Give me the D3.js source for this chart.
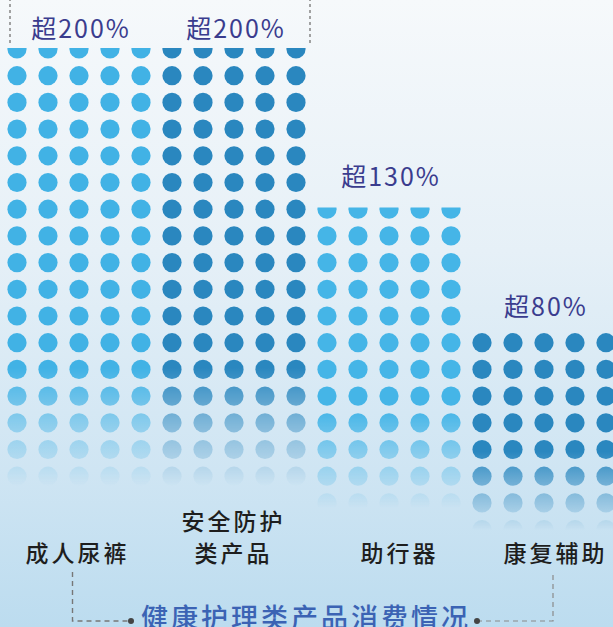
<!DOCTYPE html>
<html>
<head>
<meta charset="utf-8">
<script src="https://cdn.jsdelivr.net/npm/d3@7/dist/d3.min.js"></script>
<style>
  html, body { margin: 0; padding: 0; }
  body { width: 613px; height: 627px; overflow: hidden; }
  svg { display: block; font-family: "Noto Sans CJK SC", "Noto Sans", sans-serif; }
</style>
</head>
<body>
<svg id="chart" width="613" height="627"></svg>
<script>
// 健康护理类产品消费情况 - growth by category
const categories = ['成人尿裤', '安全防护类产品', '助行器', '康复辅助'];
const labelLines = [['成人尿裤'], ['安全防护', '类产品'], ['助行器'], ['康复辅助']];
const growth = [200, 200, 130, 80];
const growthText = ['超200%', '超200%', '超130%', '超80%'];
const title = '健康护理类产品消费情况';

(function() {
    const W = 613, H = 627;
    const svg = d3.select('#chart');
    const defs = svg.append('defs');

    // style per group
    const dotColor = ['#41b2e5', '#2a87bf', '#45b5e7', '#2a87bf'];
    const fade = [[368, 486], [368, 486], [410, 508], [452, 530]];
    const pctDy = [-10, -10, -22, -6];
    const labelDx = [-3, -2, 9, 10];

    // background
    const bg = defs.append('linearGradient').attr('id', 'bg')
        .attr('x1', 0).attr('y1', 0).attr('x2', 0).attr('y2', 1);
    bg.append('stop').attr('offset', 0).attr('stop-color', '#f6f9fb');
    bg.append('stop').attr('offset', 0.4).attr('stop-color', '#e6f0f7');
    bg.append('stop').attr('offset', 0.75).attr('stop-color', '#cfe5f3');
    bg.append('stop').attr('offset', 1).attr('stop-color', '#bcdcef');
    svg.append('rect').attr('width', W).attr('height', H).attr('fill', 'url(#bg)');

    // scales
    const x = d3.scaleBand().domain(categories).range([1.5, 621.5]).padding(0);
    const y = d3.scaleLinear().domain([0, 200]).range([504, 48]);
    const perGroup = 5;
    const step = x.bandwidth() / perGroup;
    const r = 9.6;
    const rowY = d3.range(0, 19).map(i => 49 + 26.7 * i);

    categories.forEach((c, gi) => {
        const top = y(growth[gi]);
        const clipId = 'clip' + gi;
        defs.append('clipPath').attr('id', clipId)
            .append('rect').attr('x', x(c)).attr('y', top)
            .attr('width', x.bandwidth()).attr('height', H - top);

        const grad = defs.append('linearGradient').attr('id', 'fade' + gi)
            .attr('gradientUnits', 'userSpaceOnUse')
            .attr('x1', 0).attr('x2', 0).attr('y1', fade[gi][0]).attr('y2', fade[gi][1]);
        grad.append('stop').attr('offset', 0).attr('stop-color', '#fff');
        grad.append('stop').attr('offset', 0.5).attr('stop-color', '#777');
        grad.append('stop').attr('offset', 1).attr('stop-color', '#000');
        defs.append('mask').attr('id', 'mask' + gi)
            .attr('maskUnits', 'userSpaceOnUse')
            .attr('x', 0).attr('y', 0).attr('width', W).attr('height', H)
            .append('rect').attr('width', W).attr('height', H).attr('fill', 'url(#fade' + gi + ')');

        const cells = [];
        rowY.filter(cy => cy >= top - r / 2 && cy < fade[gi][1]).forEach(cy => {
            d3.range(perGroup).forEach(j => cells.push({ cx: x(c) + step * (j + 0.5), cy }));
        });

        const g = svg.append('g')
            .attr('clip-path', 'url(#' + clipId + ')')
            .append('g').attr('mask', 'url(#mask' + gi + ')');
        g.selectAll('circle').data(cells).enter().append('circle')
            .attr('cx', d => d.cx).attr('cy', d => d.cy).attr('r', r)
            .attr('fill', dotColor[gi]);

        // growth label
        svg.append('text')
            .attr('x', x(c) + x.bandwidth() / 2 + 2)
            .attr('y', top + pctDy[gi])
            .attr('text-anchor', 'middle')
            .attr('font-size', 25)
            .attr('letter-spacing', 2)
            .attr('fill', '#3a3c8e')
            .text(growthText[gi]);

        // category label
        const lines = labelLines[gi];
        const lab = svg.append('text')
            .attr('text-anchor', 'middle')
            .attr('font-size', 23)
            .attr('font-weight', 500)
            .attr('letter-spacing', 3)
            .attr('fill', '#1e1e1e');
        lines.forEach((ln, li) => {
            lab.append('tspan')
                .attr('x', x(c) + x.bandwidth() / 2 + labelDx[gi] + 1.5)
                .attr('y', 562 - (lines.length - 1 - li) * 32)
                .text(ln);
        });
    });

    // dashed bracket on top
    svg.append('path')
        .attr('d', 'M10,-2 V44 M310,-2 V44')
        .attr('stroke', '#8c8c8c').attr('stroke-width', 1.6)
        .attr('stroke-dasharray', '3,3').attr('fill', 'none');

    // bottom bracket + title
    svg.append('path')
        .attr('d', 'M72.5,572 V621 H131')
        .attr('stroke', '#777').attr('stroke-width', 1.4)
        .attr('stroke-dasharray', '5,4').attr('fill', 'none');
    svg.append('path')
        .attr('d', 'M477,621 H553 V572')
        .attr('stroke', '#8a8a8a').attr('stroke-width', 1.2)
        .attr('stroke-dasharray', '5,4').attr('fill', 'none');
    svg.append('circle').attr('cx', 131).attr('cy', 621).attr('r', 3).attr('fill', '#444');
    svg.append('circle').attr('cx', 477).attr('cy', 621).attr('r', 3).attr('fill', '#444');

    svg.append('text')
        .attr('x', 306).attr('y', 628)
        .attr('text-anchor', 'middle')
        .attr('font-size', 27)
        .attr('font-weight', 500)
        .attr('letter-spacing', 3)
        .attr('fill', '#3b63b4')
        .text(title);
})();
</script>
</body>
</html>
